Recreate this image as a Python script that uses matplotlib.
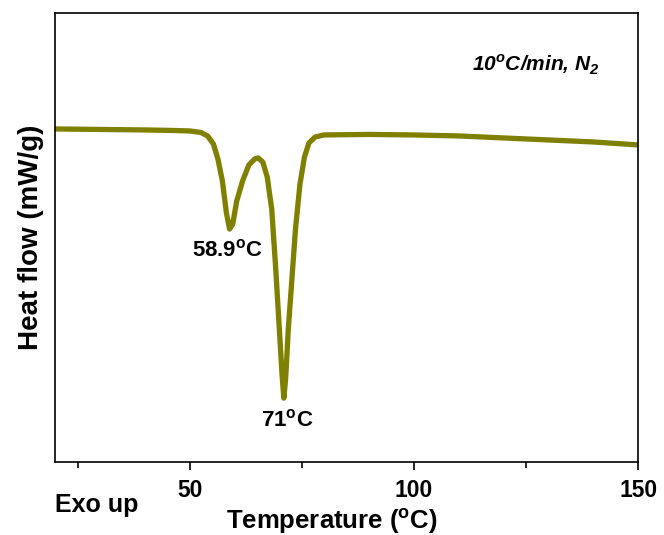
import matplotlib
matplotlib.use('Agg')
import matplotlib.pyplot as plt

plt.rcParams['font.family'] = ['Liberation Sans', 'DejaVu Sans']
plt.rcParams['font.weight'] = 'bold'

# DSC trace (arbitrary heat flow units)
temp = [20, 30, 40, 46, 50, 52.5, 54, 55.3, 56.3, 57.3, 58.2, 58.9, 59.6,
        60.5, 61.8, 63.2, 64.5, 65.3, 66.3, 67.3, 68.3, 69.2, 70.0, 70.6,
        71.0, 71.4, 72.0, 72.8, 73.6, 74.6, 75.6, 76.6, 78, 80, 90, 100,
        110, 120, 130, 140, 150]
heat_flow = [0.00, -0.005, -0.01, -0.015, -0.02, -0.035, -0.07, -0.15,
             -0.30, -0.52, -0.84, -1.00, -0.95, -0.72, -0.52, -0.36, -0.30,
             -0.29, -0.33, -0.48, -0.80, -1.40, -2.00, -2.45, -2.69, -2.50,
             -2.00, -1.50, -1.00, -0.55, -0.28, -0.14, -0.08, -0.06, -0.055,
             -0.06, -0.07, -0.09, -0.11, -0.13, -0.16]

peak_labels = ['58.9$^\\mathregular{o}$C', '71$^\\mathregular{o}$C']
peak_pos = [(58.5, -1.21), (71.7, -2.91)]

fig = plt.figure(figsize=(6.64, 5.35), dpi=100)
ax = fig.add_axes([0.083, 0.136, 0.878, 0.84])

ax.plot(temp, heat_flow, color='#808000', lw=3.8, solid_joinstyle='round',
        solid_capstyle='round')

ax.set_xlim(20, 150)
ax.set_ylim(-3.33, 1.16)
ax.set_xticks([50, 100, 150])
ax.set_xticks([25, 75, 125], minor=True)
ax.set_yticks([])
ax.tick_params(axis='x', which='major', direction='out', length=6, width=1.2,
               labelsize=16.5, pad=6)
ax.tick_params(axis='x', which='minor', direction='out', length=4, width=1.2)
for s in ax.spines.values():
    s.set_linewidth(1.2)

ax.set_xlabel('Temperature ($\\mathregular{^oC}$)', fontsize=18.5,
              fontweight='bold')
ax.xaxis.set_label_coords(0.475, -0.1)
ax.set_ylabel('Heat flow (mW/g)', fontsize=20, fontweight='bold', labelpad=8)

for lab, (tx, ty) in zip(peak_labels, peak_pos):
    ax.text(tx, ty, lab, fontsize=16, fontweight='bold', ha='center',
            va='center')

ax.text(0.825, 0.884, '10$^\\mathregular{o}$C/min, N$_\\mathregular{2}$',
        transform=ax.transAxes, fontsize=15, fontweight='bold',
        fontstyle='italic', ha='center', va='center')

fig.text(0.083, 0.056, 'Exo up', fontsize=18, fontweight='bold',
         ha='left', va='center')

fig.savefig('out.png', dpi=100)
